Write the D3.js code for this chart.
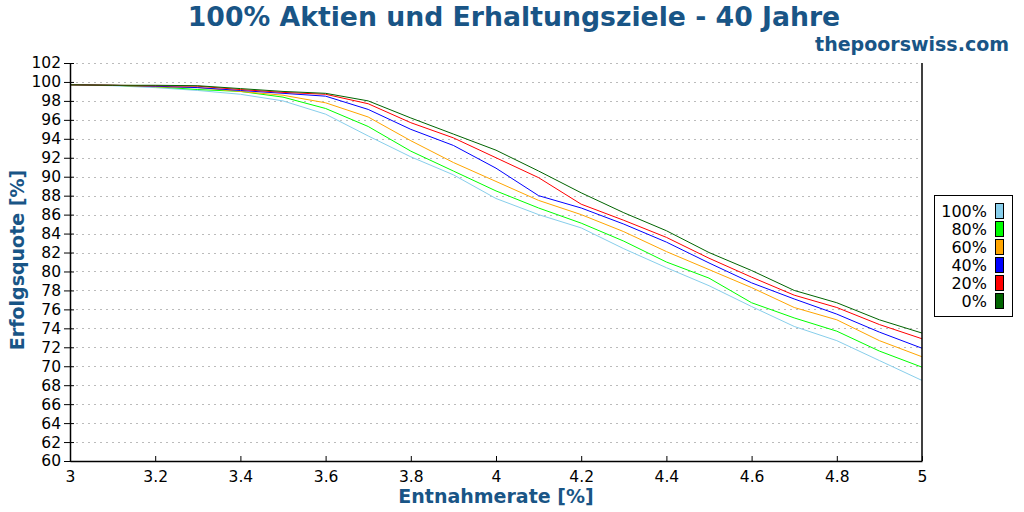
<!DOCTYPE html>
<html>
<head>
<meta charset="utf-8">
<script src="https://cdn.jsdelivr.net/npm/d3@7"></script>
<style>
  body { margin: 0; background: #fff; }
  svg { font-family: "DejaVu Sans", sans-serif; }
</style>
</head>
<body>
<div id="chart"></div>
<script>
// withdrawal rates (x)
const rates = [3.0, 3.1, 3.2, 3.3, 3.4, 3.5, 3.6, 3.7, 3.8, 3.9, 4.0,
               4.1, 4.2, 4.3, 4.4, 4.5, 4.6, 4.7, 4.8, 4.9, 5.0];

// success rate per preservation goal
const goal100 = [99.7, 99.6, 99.4, 99.1, 98.7, 98.0, 96.6, 94.3, 92.1, 90.2, 87.7,
                 86.0, 84.6, 82.4, 80.4, 78.5, 76.3, 74.2, 72.7, 70.6, 68.5];
const goal80  = [99.7, 99.65, 99.5, 99.2, 99.0, 98.4, 97.2, 95.3, 92.7, 90.6, 88.5,
                 86.7, 85.1, 83.2, 81.0, 79.3, 76.7, 75.1, 73.7, 71.6, 69.9];
const goal60  = [99.7, 99.65, 99.5, 99.4, 99.0, 98.6, 97.8, 96.3, 93.8, 91.5, 89.5,
                 87.5, 86.0, 84.2, 82.1, 80.2, 78.3, 76.2, 74.9, 72.7, 71.0];
const goal40  = [99.7, 99.65, 99.55, 99.4, 99.1, 98.8, 98.5, 97.1, 95.0, 93.3, 90.9,
                 88.0, 86.7, 85.0, 83.1, 80.9, 78.8, 77.1, 75.5, 73.6, 71.9];
const goal20  = [99.7, 99.65, 99.6, 99.55, 99.2, 98.9, 98.7, 97.7, 95.7, 94.1, 92.0,
                 89.9, 87.1, 85.4, 83.6, 81.4, 79.4, 77.5, 76.2, 74.4, 72.9];
const goal0   = [99.7, 99.65, 99.65, 99.6, 99.3, 99.0, 98.8, 98.0, 96.2, 94.5, 92.8,
                 90.6, 88.3, 86.2, 84.3, 82.0, 80.1, 78.0, 76.7, 74.9, 73.5];

const seriesNames  = ["100%", "80%", "60%", "40%", "20%", "0%"];
const seriesColors = ["#87ceeb", "#00ff00", "#ffa500", "#0000ff", "#ff0000", "#006400"];
const seriesValues = [goal100, goal80, goal60, goal40, goal20, goal0];

const xTicks = [3, 3.2, 3.4, 3.6, 3.8, 4, 4.2, 4.4, 4.6, 4.8, 5];
const yTicks = d3.range(60, 103, 2);

const titleColor = "#195586";
const width = 1024, height = 512;
const margin = {top: 63, right: 102, bottom: 51, left: 70};

let svg = d3.select("#chart").append("svg")
    .attr("width", width)
    .attr("height", height);

let x = d3.scaleLinear()
    .domain([3, 5])
    .range([margin.left, width - margin.right]);

let y = d3.scaleLinear()
    .domain([60, 102])
    .range([height - margin.bottom, margin.top]);

// grid
svg.append("g")
    .selectAll("line")
    .data(yTicks.filter(function (d) { return d > 60; }))
    .enter().append("line")
    .attr("x1", x(3)).attr("x2", x(5))
    .attr("y1", function (d) { return Math.round(y(d)) + 0.5; })
    .attr("y2", function (d) { return Math.round(y(d)) + 0.5; })
    .attr("stroke", "#bbbbbb")
    .attr("stroke-dasharray", "2,4");

// lines
let line = d3.line()
    .x(function (d, i) { return x(rates[i]); })
    .y(function (d) { return y(d); });

svg.append("g")
    .selectAll("path")
    .data(seriesValues)
    .enter().append("path")
    .attr("fill", "none")
    .attr("stroke", function (d, i) { return seriesColors[i]; })
    .attr("stroke-width", 1)
    .attr("d", line);

// axes
let yAxis = svg.append("g")
    .attr("transform", "translate(" + x(3) + ",0)")
    .call(d3.axisLeft(y).tickValues(yTicks).tickSizeInner(6).tickSizeOuter(0).tickPadding(3));
yAxis.selectAll(".tick line").attr("x2", -6).attr("x1", 4);

let xAxis = svg.append("g")
    .attr("transform", "translate(0," + y(60) + ")")
    .call(d3.axisBottom(x).tickValues(xTicks).tickFormat(d3.format("")).tickSizeInner(-5).tickSizeOuter(0).tickPadding(10));

[yAxis, xAxis].forEach(function (a) {
    a.selectAll("text").attr("font-size", 15.5).attr("font-family", "DejaVu Sans").attr("fill", "#000");
    a.select(".domain").attr("stroke", "#000").attr("stroke-width", 1.5);
    a.selectAll(".tick line").attr("stroke", "#000");
});

// right border
svg.append("line")
    .attr("x1", x(5)).attr("x2", x(5))
    .attr("y1", y(102)).attr("y2", y(60))
    .attr("stroke", "#000")
    .attr("stroke-width", 1.5);

// titles
svg.append("text")
    .attr("x", 514).attr("y", 26)
    .attr("text-anchor", "middle")
    .attr("font-size", 26.7).attr("font-weight", "bold")
    .attr("fill", titleColor)
    .text("100% Aktien und Erhaltungsziele - 40 Jahre");

svg.append("text")
    .attr("x", 1009).attr("y", 51)
    .attr("text-anchor", "end")
    .attr("font-size", 19).attr("font-weight", "bold")
    .attr("fill", titleColor)
    .text("thepoorswiss.com");

svg.append("text")
    .attr("x", 496).attr("y", 503)
    .attr("text-anchor", "middle")
    .attr("font-size", 19).attr("font-weight", "bold")
    .attr("fill", titleColor)
    .text("Entnahmerate [%]");

svg.append("text")
    .attr("transform", "translate(24," + 260 + ") rotate(-90)")
    .attr("text-anchor", "middle")
    .attr("font-size", 19).attr("font-weight", "bold")
    .attr("fill", titleColor)
    .text("Erfolgsquote [%]");

// legend
let legend = svg.append("g");
legend.append("rect")
    .attr("x", 934.5).attr("y", 195.5)
    .attr("width", 78).attr("height", 121)
    .attr("fill", "#fff")
    .attr("stroke", "#000");

let rows = legend.selectAll(".row")
    .data(seriesNames)
    .enter().append("g")
    .attr("class", "row")
    .attr("transform", function (d, i) { return "translate(0," + (211 + i * 18) + ")"; });

rows.append("text")
    .attr("x", 987).attr("y", 0)
    .attr("dy", "0.35em")
    .attr("text-anchor", "end")
    .attr("font-size", 16)
    .text(function (d) { return d; });

rows.append("rect")
    .attr("x", 995.5).attr("y", -7.5)
    .attr("width", 8).attr("height", 15)
    .attr("fill", function (d, i) { return seriesColors[i]; })
    .attr("stroke", "#000");
</script>
</body>
</html>
